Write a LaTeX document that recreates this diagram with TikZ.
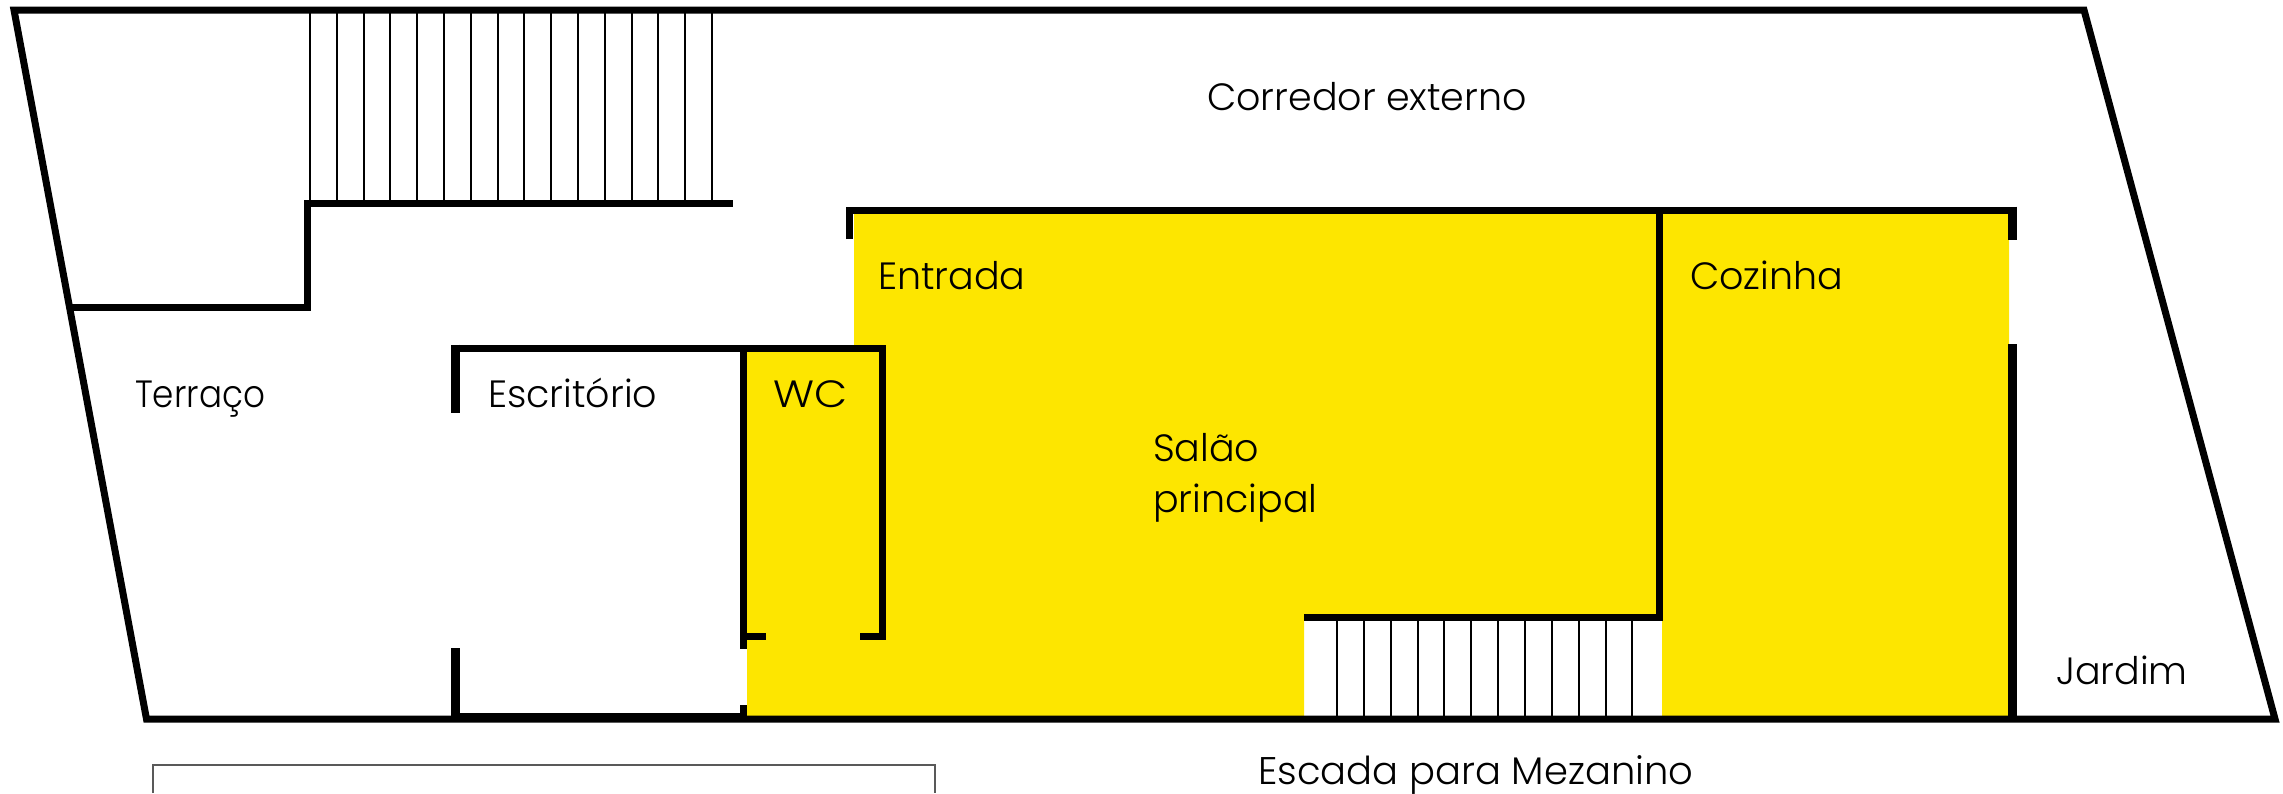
\documentclass[tikz,border=0pt]{standalone}
\usepackage{fontspec}
\setmainfont{Poppins Light}
\definecolor{salao}{HTML}{FDE600}
\tikzset{
  wall/.style={line width=7pt,line cap=butt,line join=miter},
  thickwall/.style={line width=9pt,line cap=butt,line join=miter},
  stairline/.style={line width=2pt},
  room/.style={inner sep=0pt,anchor=base west,font=\fontsize{38}{50}\selectfont},
}
\begin{document}
\begin{tikzpicture}[x=1pt,y=-1pt]
	\useasboundingbox (0,0) rectangle (2283,793);
	% yellow rooms
	\fill[salao] (854,210) -- (2009,210) -- (2009,716) -- (1662,716) -- (1662,620) -- (1304,620) -- (1304,716) -- (747,716) -- (747,348) -- (854,348) -- cycle;
	% stairs
	\foreach \i in {0,...,15}{
		\draw[stairline] (310+26.8*\i,10) -- (310+26.8*\i,203);
	};
	\foreach \i in {0,...,11}{
		\draw[stairline] (1337+26.85*\i,617) -- (1337+26.85*\i,718);
	};
	% outer walls
	\draw[wall] (14,10) -- (2084,10) -- (2275,719) -- (146.5,719) -- cycle;
	\draw[wall] (70,307.5) -- (307,307.5) -- (307,203) -- (733,203);
	\draw[wall] (849.5,239) -- (849.5,210) -- (2012,210);
	\draw[thickwall] (2012,206.5) -- (2012,240);
	\draw[thickwall] (2012,344) -- (2012,718);
	\draw[wall] (1659.5,210) -- (1659.5,617) -- (1304,617);
	% office and wc
	\draw[wall] (455,348) -- (882,348) -- (882,636) -- (860,636);
	\draw[thickwall] (455,344.5) -- (455,413);
	\draw[wall] (743.5,348) -- (743.5,649);
	\draw[wall] (743.5,636) -- (766,636);
	\draw[wall] (743.5,705) -- (743.5,718);
	\draw[thickwall] (455,648) -- (455,718);
	\draw[thickwall] (455,717.5) -- (743,717.5);
	% box below the plan
	\draw[line width=1.6pt,black!65] (153,793) -- (153,765) -- (935,765) -- (935,793);
	% labels
	\node[room] (corredor) at (1207,110) {Corredor externo};
	\node[room] (terraco) at (135,407) {\scalebox{0.9}[1]{Terraço}};
	\node[room] (escritorio) at (488,407) {Escritório};
	\node[room] (wc) at (773,407) {\scalebox{1.13}[1]{WC}};
	\node[room] (entrada) at (878,289) {Entrada};
	\node[room] (cozinha) at (1690,289) {Cozinha};
	\node[room] (salaotxt) at (1153,461) {Salão};
	\node[room] (principal) at (1153,512) {principal};
	\node[room] (jardim) at (2056,684) {Jardim};
	\node[room,font=\fontsize{38.5}{50}\selectfont] (escada) at (1258,784) {Escada para Mezanino};
\end{tikzpicture}
\end{document}
